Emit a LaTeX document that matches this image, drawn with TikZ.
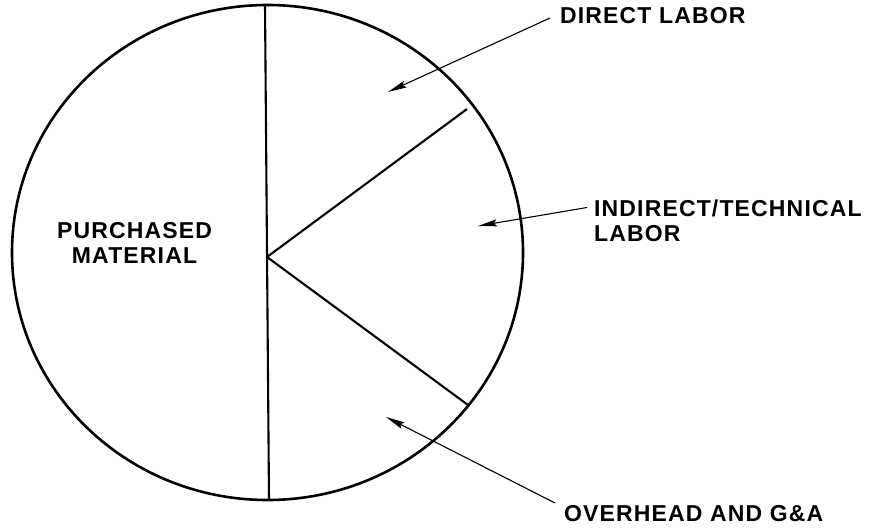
\documentclass[tikz,border=0pt]{standalone}
\usepackage{fontspec}
\setmainfont{Liberation Sans}[LetterSpace=5]
\usetikzlibrary{arrows.meta,calc}
\begin{document}
\begin{tikzpicture}[x=1pt,y=-1pt,
  lbl/.style={inner sep=0pt,font=\bfseries\fontsize{23}{25.5}\selectfont},
  rim/.style={line width=2.6pt},
  cut/.style={line width=2.1pt},
  arr/.style={line width=1.1pt,-{Stealth[length=19pt,width=7pt,inset=3pt]}}]
\useasboundingbox (0,0) rectangle (869,527);
% pie outline
\draw[rim] (267.5,252.5) ellipse [x radius=255.5, y radius=247.5];
% dividing lines
\coordinate (top) at (265,5);
\coordinate (bot) at (269,500);
\coordinate (apex) at (267,257);
\coordinate (up) at (467,109);
\coordinate (lo) at (468,405);
\draw[cut] (top) -- (bot);
\draw[cut] (apex) -- (up);
\draw[cut] (apex) -- (lo);
% labels
\node[lbl,anchor=north,align=center] (pm) at (134.5,222) {PURCHASED\\MATERIAL};
\node[lbl,anchor=base west] (dl) at (560,24) {DIRECT LABOR};
\node[lbl,anchor=north west,align=left] (itl) at (594,199.5) {INDIRECT/TECHNICAL\\LABOR};
\node[lbl,anchor=base west] (oh) at (564,521) {OVERHEAD AND G\&A};
% arrow tips
\coordinate (dltip) at (388,92);
\coordinate (ittip) at (478,226);
\coordinate (ohtip) at (386,417);
\draw[arr] ($(dl.base west)+(-10,-6)$) -- (dltip);
\draw[arr] ($(itl.north west)+(-7,8)$) -- (ittip);
\draw[arr] ($(oh.base west)+(-9,-18)$) -- (ohtip);
\end{tikzpicture}
\end{document}
